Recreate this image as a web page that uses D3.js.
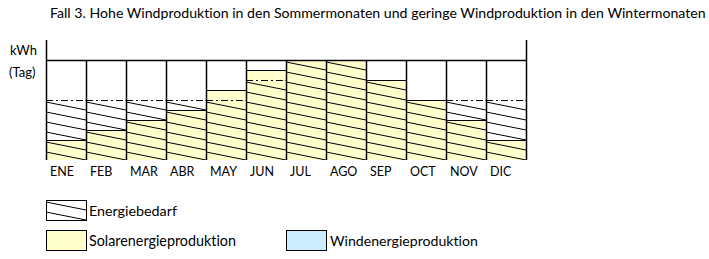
<!DOCTYPE html>
<html>
<head>
<meta charset="utf-8">
<script src="https://cdn.jsdelivr.net/npm/d3@7"></script>
<style>
  html, body { margin: 0; padding: 0; background: #fff; }
  svg { display: block; font-family: Lato, "Open Sans", sans-serif; font-variant-ligatures: none; font-feature-settings: "liga" 0, "clig" 0; }
  svg text { font-variant-ligatures: none; font-feature-settings: "liga" 0, "clig" 0; }
</style>
</head>
<body>
<svg id="chart" width="709" height="259"></svg>
<script>
const months = ["ENE","FEB","MAR","ABR","MAY","JUN","JUL","AGO","SEP","OCT","NOV","DIC"];
const solarValues = [1, 1.5, 2, 2.5, 3.5, 4.5, 5, 5, 4, 3, 2, 1];
const demandValues = [3, 3, 3, 3, 3, 4, 5, 5, 4, 3, 3, 3];
const windValues = [0, 0, 0, 0, 0, 0, 0, 0, 0, 0, 0, 0];
const titleText = "Fall 3. Hohe Windproduktion in den Sommermonaten und geringe Windproduktion in den Wintermonaten";
const yLabel = ["kWh", "(Tag)"];
const legendItems = [
  {key: "demand", label: "Energiebedarf"},
  {key: "solar", label: "Solarenergieproduktion"},
  {key: "wind", label: "Windenergieproduktion"}
];

const COLORS = { solar: "#FFFFCC", wind: "#CCECFF", line: "#000" };

const svg = d3.select("#chart");
const x = d3.scaleBand().domain(months).range([46, 526]).padding(0);
const y = d3.scaleLinear().domain([0, 6]).range([160, 40]);

// hatch pattern
const defs = svg.append("defs");
const pat = defs.append("pattern").attr("id", "hatch")
  .attr("patternUnits", "userSpaceOnUse")
  .attr("x", 46).attr("y", 62).attr("width", 40).attr("height", 10);
pat.append("path")
  .attr("d", "M0,-10 L40,-2 M0,0 L40,8 M0,10 L40,18")
  .attr("stroke", "#000").attr("stroke-width", 1).attr("fill", "none");

const data = months.map((m, i) => ({m, solar: solarValues[i], demand: demandValues[i], wind: windValues[i]}));

// solar bars
svg.append("g").selectAll("rect").data(data).join("rect")
  .attr("x", d => x(d.m)).attr("width", x.bandwidth())
  .attr("y", d => y(d.solar)).attr("height", d => y(0) - y(d.solar))
  .attr("fill", COLORS.solar);

// wind bars stacked on solar
svg.append("g").selectAll("rect").data(data).join("rect")
  .attr("x", d => x(d.m)).attr("width", x.bandwidth())
  .attr("y", d => y(d.solar + d.wind)).attr("height", d => y(d.solar) - y(d.solar + d.wind))
  .attr("fill", COLORS.wind);

// demand hatching
svg.append("g").selectAll("rect").data(data).join("rect")
  .attr("x", d => x(d.m)).attr("width", x.bandwidth())
  .attr("y", d => y(d.demand)).attr("height", d => y(0) - y(d.demand))
  .attr("fill", "url(#hatch)");

// demand dash-dot line
svg.append("g").selectAll("line").data(data).join("line")
  .attr("x1", d => x(d.m)).attr("x2", d => x(d.m) + x.bandwidth())
  .attr("y1", d => Math.round(y(d.demand)) + 0.5).attr("y2", d => Math.round(y(d.demand)) + 0.5)
  .attr("stroke", "#000").attr("stroke-width", 1).attr("stroke-dasharray", "7,3,2,3");

// solar top line
svg.append("g").selectAll("line").data(data).join("line")
  .attr("x1", d => x(d.m)).attr("x2", d => x(d.m) + x.bandwidth())
  .attr("y1", d => Math.round(y(d.solar + d.wind)) + 0.5).attr("y2", d => Math.round(y(d.solar + d.wind)) + 0.5)
  .attr("stroke", "#000").attr("stroke-width", 1);

// grid: vertical dividers
const bounds = months.slice(1).map(m => x(m));
svg.append("g").selectAll("line").data(bounds).join("line")
  .attr("x1", d => d + 0.5).attr("x2", d => d + 0.5)
  .attr("y1", y(5)).attr("y2", y(0))
  .attr("stroke", "#000").attr("stroke-width", 1.5);

// horizontal line at 5
svg.append("line")
  .attr("x1", x.range()[0]).attr("x2", x.range()[1])
  .attr("y1", y(5) + 0.5).attr("y2", y(5) + 0.5)
  .attr("stroke", "#000").attr("stroke-width", 1.5);

// outer left/right
[x.range()[0], x.range()[1]].forEach(xx => {
  svg.append("line")
    .attr("x1", xx + 0.5).attr("x2", xx + 0.5)
    .attr("y1", y(6)).attr("y2", y(0))
    .attr("stroke", "#000").attr("stroke-width", 1.5);
});

// x axis labels
const xAxis = svg.append("g").attr("transform", `translate(0,${y(0)})`)
  .call(d3.axisBottom(x).tickSize(0).tickPadding(0));
xAxis.select(".domain").remove();
xAxis.selectAll("text")
  .attr("x", -x.bandwidth() / 2 + 4).attr("y", 16).attr("dy", 0)
  .attr("text-anchor", "start")
  .attr("font-family", "Lato, 'Open Sans', sans-serif")
  .attr("font-size", 12.5).attr("fill", "#000");

function fitText(sel, target) {
  const fs = parseFloat(sel.attr("font-size"));
  const w = sel.node().getComputedTextLength();
  if (w > 0) sel.attr("font-size", (fs * target / w).toFixed(2));
}

// title
const title = svg.append("text").attr("x", 50).attr("y", 18)
  .attr("font-size", 13).attr("fill", "#000").text(titleText);
fitText(title, 656);

// y label
svg.append("text").attr("x", 10).attr("y", 55).attr("font-size", 13).attr("fill", "#000").text(yLabel[0]);
svg.append("text").attr("x", 9).attr("y", 77).attr("font-size", 13).attr("fill", "#000").text(yLabel[1]);

// legend
const legendPos = [
  {x: 46, y: 200, tx: 89, ty: 216, w: 88},
  {x: 46, y: 230, tx: 89, ty: 246, w: 147},
  {x: 286, y: 230, tx: 330, ty: 246, w: 148}
];
legendItems.forEach((it, i) => {
  const p = legendPos[i];
  const fill = it.key === "demand" ? "url(#hatch)" : COLORS[it.key];
  svg.append("rect").attr("x", p.x + 0.5).attr("y", p.y + 0.5).attr("width", 40).attr("height", 20)
    .attr("fill", fill).attr("stroke", "#000").attr("stroke-width", 1);
  const t = svg.append("text").attr("x", p.tx).attr("y", p.ty).attr("font-size", 13)
    .attr("fill", "#000").text(it.label);
  fitText(t, p.w);
});
</script>
</body>
</html>
